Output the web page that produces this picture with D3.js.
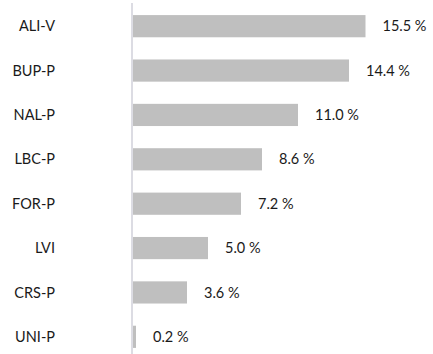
<!DOCTYPE html>
<html>
<head>
<meta charset="utf-8">
<script src="https://cdn.jsdelivr.net/npm/d3@7"></script>
<style>
  html, body { margin: 0; padding: 0; background: #fff; }
  svg { display: block; }
  text { font-family: Lato, "Open Sans", sans-serif; }
</style>
</head>
<body>
<svg id="chart" width="433" height="354"></svg>
<script>
// Share of total by product code
const categories = ["ALI-V", "BUP-P", "NAL-P", "LBC-P", "FOR-P", "LVI", "CRS-P", "UNI-P"];
const values = [15.5, 14.4, 11.0, 8.6, 7.2, 5.0, 3.6, 0.2];

const svg = d3.select("#chart");
const axisX = 132;

const x = d3.scaleLinear().domain([0, 15.5]).range([axisX + 1, 365.5]);
const y = d3.scaleBand().domain(categories).range([4, 359]).paddingInner(0.5).paddingOuter(0.25);

// bars
svg.selectAll("rect.bar")
  .data(values)
  .join("rect")
  .attr("class", "bar")
  .attr("x", x(0))
  .attr("y", (d, i) => y(categories[i]))
  .attr("width", d => x(d) - x(0))
  .attr("height", y.bandwidth())
  .attr("fill", "#bfbfbf");

// category axis line
svg.append("line")
  .attr("x1", axisX).attr("x2", axisX)
  .attr("y1", 3).attr("y2", 354)
  .attr("stroke", "#dcdce3")
  .attr("stroke-width", 2);

// category labels
svg.selectAll("text.cat")
  .data(categories)
  .join("text")
  .attr("class", "cat")
  .attr("x", 55)
  .attr("y", d => y(d) + y.bandwidth() / 2)
  .attr("dy", "0.35em")
  .attr("text-anchor", "end")
  .attr("font-size", 14.5)
  .attr("fill", "#1a1a1a")
  .text(d => d);

// value labels
svg.selectAll("text.val")
  .data(values)
  .join("text")
  .attr("class", "val")
  .attr("x", d => x(d) + 17)
  .attr("y", (d, i) => y(categories[i]) + y.bandwidth() / 2)
  .attr("dy", "0.35em")
  .attr("font-size", 14.5)
  .attr("fill", "#1a1a1a")
  .text(d => d.toFixed(1) + " %");
</script>
</body>
</html>
